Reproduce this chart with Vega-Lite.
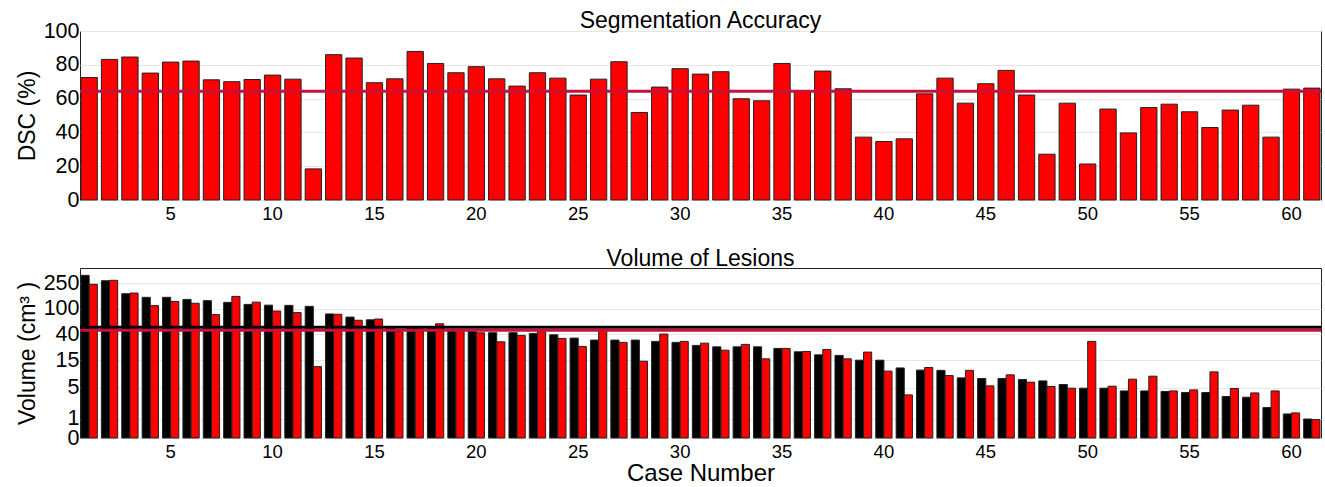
{
  "$schema": "https://vega.github.io/schema/vega-lite/v6.json",
  "padding": {"left": 15, "top": 9, "right": 5, "bottom": 0},
  "spacing": 24,
  "config": {
    "font": "Liberation Sans",
    "view": {"stroke": "#222", "strokeWidth": 1},
    "axis": {"labelColor": "#000", "titleColor": "#000", "labelFont": "Liberation Sans", "titleFont": "Liberation Sans", "titleFontWeight": "normal", "domain": false, "ticks": false, "tickSize": 0, "labelOverlap": false},
    "axisY": {"labelFontSize": 21.5, "titleFontSize": 23, "labelPadding": 1, "titlePadding": 4, "grid": true, "gridColor": "#e6e6e6", "gridWidth": 1, "tickCount": 20},
    "axisX": {"labelFontSize": 18.5, "titleFontSize": 24, "labelPadding": 4, "grid": false, "labelAngle": 0, "titlePadding": 1},
    "title": {"fontSize": 23, "fontWeight": "normal", "offset": -5, "color": "#000", "font": "Liberation Sans", "frame": "group"}
  },
  "datasets": {
    "dsc": [
      {"case": 1, "dsc": 72.5}, {"case": 2, "dsc": 83.2}, {"case": 3, "dsc": 84.6}, {"case": 4, "dsc": 75.1}, {"case": 5, "dsc": 81.6},
      {"case": 6, "dsc": 82.2}, {"case": 7, "dsc": 71.1}, {"case": 8, "dsc": 70.0}, {"case": 9, "dsc": 71.3}, {"case": 10, "dsc": 73.9},
      {"case": 11, "dsc": 71.5}, {"case": 12, "dsc": 18.4}, {"case": 13, "dsc": 86.0}, {"case": 14, "dsc": 84.0}, {"case": 15, "dsc": 69.4},
      {"case": 16, "dsc": 71.7}, {"case": 17, "dsc": 87.9}, {"case": 18, "dsc": 80.8}, {"case": 19, "dsc": 75.3}, {"case": 20, "dsc": 78.9},
      {"case": 21, "dsc": 71.7}, {"case": 22, "dsc": 67.4}, {"case": 23, "dsc": 75.3}, {"case": 24, "dsc": 72.1}, {"case": 25, "dsc": 62.1},
      {"case": 26, "dsc": 71.5}, {"case": 27, "dsc": 81.8}, {"case": 28, "dsc": 51.8}, {"case": 29, "dsc": 66.8}, {"case": 30, "dsc": 77.7},
      {"case": 31, "dsc": 74.5}, {"case": 32, "dsc": 75.9}, {"case": 33, "dsc": 59.9}, {"case": 34, "dsc": 58.7}, {"case": 35, "dsc": 80.8},
      {"case": 36, "dsc": 64.6}, {"case": 37, "dsc": 76.3}, {"case": 38, "dsc": 65.8}, {"case": 39, "dsc": 37.2}, {"case": 40, "dsc": 34.6},
      {"case": 41, "dsc": 36.2}, {"case": 42, "dsc": 62.8}, {"case": 43, "dsc": 72.1}, {"case": 44, "dsc": 57.3}, {"case": 45, "dsc": 68.8},
      {"case": 46, "dsc": 76.7}, {"case": 47, "dsc": 62.1}, {"case": 48, "dsc": 27.1}, {"case": 49, "dsc": 57.3}, {"case": 50, "dsc": 21.3},
      {"case": 51, "dsc": 53.8}, {"case": 52, "dsc": 39.7}, {"case": 53, "dsc": 54.7}, {"case": 54, "dsc": 56.7}, {"case": 55, "dsc": 52.2},
      {"case": 56, "dsc": 42.9}, {"case": 57, "dsc": 53.2}, {"case": 58, "dsc": 56.1}, {"case": 59, "dsc": 37.2}, {"case": 60, "dsc": 65.6},
      {"case": 61, "dsc": 66.2}
    ],
    "dscMean": [{"mean": 64.4}],
    "volMean": [{"method": "Manual", "mean": 51}, {"method": "Automatic", "mean": 45.7}],
    "vol": [
      {"case": 1, "method": "Manual", "volume": 332}, {"case": 1, "method": "Automatic", "volume": 241},
      {"case": 2, "method": "Manual", "volume": 274}, {"case": 2, "method": "Automatic", "volume": 278},
      {"case": 3, "method": "Manual", "volume": 172}, {"case": 3, "method": "Automatic", "volume": 176},
      {"case": 4, "method": "Manual", "volume": 151}, {"case": 4, "method": "Automatic", "volume": 112},
      {"case": 5, "method": "Manual", "volume": 151}, {"case": 5, "method": "Automatic", "volume": 130},
      {"case": 6, "method": "Manual", "volume": 140}, {"case": 6, "method": "Automatic", "volume": 122},
      {"case": 7, "method": "Manual", "volume": 134}, {"case": 7, "method": "Automatic", "volume": 81},
      {"case": 8, "method": "Manual", "volume": 126}, {"case": 8, "method": "Automatic", "volume": 156},
      {"case": 9, "method": "Manual", "volume": 117}, {"case": 9, "method": "Automatic", "volume": 127},
      {"case": 10, "method": "Manual", "volume": 114}, {"case": 10, "method": "Automatic", "volume": 92},
      {"case": 11, "method": "Manual", "volume": 113}, {"case": 11, "method": "Automatic", "volume": 87},
      {"case": 12, "method": "Manual", "volume": 109}, {"case": 12, "method": "Automatic", "volume": 11.8},
      {"case": 13, "method": "Manual", "volume": 83}, {"case": 13, "method": "Automatic", "volume": 82},
      {"case": 14, "method": "Manual", "volume": 74}, {"case": 14, "method": "Automatic", "volume": 66},
      {"case": 15, "method": "Manual", "volume": 67}, {"case": 15, "method": "Automatic", "volume": 69},
      {"case": 16, "method": "Manual", "volume": 51}, {"case": 16, "method": "Automatic", "volume": 44},
      {"case": 17, "method": "Manual", "volume": 51}, {"case": 17, "method": "Automatic", "volume": 48.4},
      {"case": 18, "method": "Manual", "volume": 51}, {"case": 18, "method": "Automatic", "volume": 58},
      {"case": 19, "method": "Manual", "volume": 46.7}, {"case": 19, "method": "Automatic", "volume": 47},
      {"case": 20, "method": "Manual", "volume": 45}, {"case": 20, "method": "Automatic", "volume": 41.8},
      {"case": 21, "method": "Manual", "volume": 42}, {"case": 21, "method": "Automatic", "volume": 30},
      {"case": 22, "method": "Manual", "volume": 42}, {"case": 22, "method": "Automatic", "volume": 38},
      {"case": 23, "method": "Manual", "volume": 40.9}, {"case": 23, "method": "Automatic", "volume": 46.1},
      {"case": 24, "method": "Manual", "volume": 38.8}, {"case": 24, "method": "Automatic", "volume": 34},
      {"case": 25, "method": "Manual", "volume": 34.4}, {"case": 25, "method": "Automatic", "volume": 25.3},
      {"case": 26, "method": "Manual", "volume": 32}, {"case": 26, "method": "Automatic", "volume": 47.3},
      {"case": 27, "method": "Manual", "volume": 32}, {"case": 27, "method": "Automatic", "volume": 29.4},
      {"case": 28, "method": "Manual", "volume": 32}, {"case": 28, "method": "Automatic", "volume": 14.5},
      {"case": 29, "method": "Manual", "volume": 30.5}, {"case": 29, "method": "Automatic", "volume": 39.9},
      {"case": 30, "method": "Manual", "volume": 29.4}, {"case": 30, "method": "Automatic", "volume": 30.5},
      {"case": 31, "method": "Manual", "volume": 26.3}, {"case": 31, "method": "Automatic", "volume": 28.6},
      {"case": 32, "method": "Manual", "volume": 24.9}, {"case": 32, "method": "Automatic", "volume": 22},
      {"case": 33, "method": "Manual", "volume": 24.9}, {"case": 33, "method": "Automatic", "volume": 27.3},
      {"case": 34, "method": "Manual", "volume": 24.9}, {"case": 34, "method": "Automatic", "volume": 15.9},
      {"case": 35, "method": "Manual", "volume": 23.5}, {"case": 35, "method": "Automatic", "volume": 23.5},
      {"case": 36, "method": "Manual", "volume": 20.7}, {"case": 36, "method": "Automatic", "volume": 21},
      {"case": 37, "method": "Manual", "volume": 18.5}, {"case": 37, "method": "Automatic", "volume": 22.6},
      {"case": 38, "method": "Manual", "volume": 18.1}, {"case": 38, "method": "Automatic", "volume": 15.9},
      {"case": 39, "method": "Manual", "volume": 15.1}, {"case": 39, "method": "Automatic", "volume": 20.5},
      {"case": 40, "method": "Manual", "volume": 15.1}, {"case": 40, "method": "Automatic", "volume": 9.9},
      {"case": 41, "method": "Manual", "volume": 11.2}, {"case": 41, "method": "Automatic", "volume": 3.66},
      {"case": 42, "method": "Manual", "volume": 10.3}, {"case": 42, "method": "Automatic", "volume": 11.4},
      {"case": 43, "method": "Manual", "volume": 10.2}, {"case": 43, "method": "Automatic", "volume": 8.3},
      {"case": 44, "method": "Manual", "volume": 7.56}, {"case": 44, "method": "Automatic", "volume": 10.2},
      {"case": 45, "method": "Manual", "volume": 7.37}, {"case": 45, "method": "Automatic", "volume": 5.43},
      {"case": 46, "method": "Manual", "volume": 7.37}, {"case": 46, "method": "Automatic", "volume": 8.53},
      {"case": 47, "method": "Manual", "volume": 7.08}, {"case": 47, "method": "Automatic", "volume": 6.34},
      {"case": 48, "method": "Manual", "volume": 6.68}, {"case": 48, "method": "Automatic", "volume": 5.29},
      {"case": 49, "method": "Manual", "volume": 5.76}, {"case": 49, "method": "Automatic", "volume": 4.92},
      {"case": 50, "method": "Manual", "volume": 4.92}, {"case": 50, "method": "Automatic", "volume": 30.5},
      {"case": 51, "method": "Manual", "volume": 4.92}, {"case": 51, "method": "Automatic", "volume": 5.36},
      {"case": 52, "method": "Manual", "volume": 4.37}, {"case": 52, "method": "Automatic", "volume": 7.17},
      {"case": 53, "method": "Manual", "volume": 4.37}, {"case": 53, "method": "Automatic", "volume": 8.09},
      {"case": 54, "method": "Manual", "volume": 4.26}, {"case": 54, "method": "Automatic", "volume": 4.37},
      {"case": 55, "method": "Manual", "volume": 4.07}, {"case": 55, "method": "Automatic", "volume": 4.57},
      {"case": 56, "method": "Manual", "volume": 4.07}, {"case": 56, "method": "Automatic", "volume": 9.6},
      {"case": 57, "method": "Manual", "volume": 3.4}, {"case": 57, "method": "Automatic", "volume": 4.86},
      {"case": 58, "method": "Manual", "volume": 3.29}, {"case": 58, "method": "Automatic", "volume": 4.0},
      {"case": 59, "method": "Manual", "volume": 1.97}, {"case": 59, "method": "Automatic", "volume": 4.37},
      {"case": 60, "method": "Manual", "volume": 1.36}, {"case": 60, "method": "Automatic", "volume": 1.45},
      {"case": 61, "method": "Manual", "volume": 0.97}, {"case": 61, "method": "Automatic", "volume": 0.93}
    ]
  },
  "vconcat": [
    {
      "width": 1241,
      "height": 169,
      "title": {"text": "Segmentation Accuracy", "offset": -13},
      "layer": [
        {
          "data": {"name": "dsc"},
          "mark": {"type": "bar", "color": "#ff0000", "stroke": "#222", "strokeWidth": 1},
          "encoding": {
            "x": {"field": "case", "type": "ordinal", "scale": {"paddingInner": 0.2, "paddingOuter": 0.05},
                  "axis": {"values": [5, 10, 15, 20, 25, 30, 35, 40, 45, 50, 55, 60], "title": null, "labelOverlap": false}},
            "y": {"field": "dsc", "type": "quantitative", "scale": {"domain": [0, 100], "nice": false},
                  "axis": {"values": [0, 20, 40, 60, 80, 100], "title": "DSC (%)", "labelOverlap": false, "tickCount": 20}}
          }
        },
        {
          "data": {"name": "dscMean"},
          "mark": {"type": "rule", "color": "#c8103c", "strokeWidth": 3},
          "encoding": {"y": {"field": "mean", "type": "quantitative"}}
        }
      ]
    },
    {
      "width": 1241,
      "height": 170,
      "title": {"text": "Volume of Lesions", "offset": -3},
      "layer": [
        {
          "data": {"name": "vol"},
          "mark": {"type": "bar", "stroke": "#222", "strokeWidth": 1},
          "encoding": {
            "x": {"field": "case", "type": "ordinal", "scale": {"paddingInner": 0.2, "paddingOuter": 0.05},
                  "axis": {"values": [5, 10, 15, 20, 25, 30, 35, 40, 45, 50, 55, 60], "title": "Case Number", "labelOverlap": false}},
            "xOffset": {"field": "method", "type": "nominal", "sort": ["Manual", "Automatic"], "scale": {"paddingInner": 0, "paddingOuter": 0}},
            "y": {"field": "volume", "type": "quantitative", "scale": {"type": "symlog", "constant": 1, "domain": [0, 432], "nice": false},
                  "axis": {"values": [0, 1, 5, 15, 40, 100, 250], "labelExpr": "'' + datum.value", "title": "Volume (cm³ )", "labelOverlap": false, "tickCount": 20}},
            "fill": {"field": "method", "type": "nominal", "scale": {"domain": ["Manual", "Automatic"], "range": ["#000000", "#ff0000"]}, "legend": null}
          }
        },
        {
          "data": {"name": "volMean"},
          "mark": {"type": "rule", "strokeWidth": 3},
          "encoding": {
            "y": {"field": "mean", "type": "quantitative"},
            "color": {"field": "method", "type": "nominal", "scale": {"domain": ["Manual", "Automatic"], "range": ["#000000", "#c8103c"]}, "legend": null}
          }
        }
      ],
      "resolve": {"scale": {"color": "independent", "fill": "independent"}}
    }
  ]
}
